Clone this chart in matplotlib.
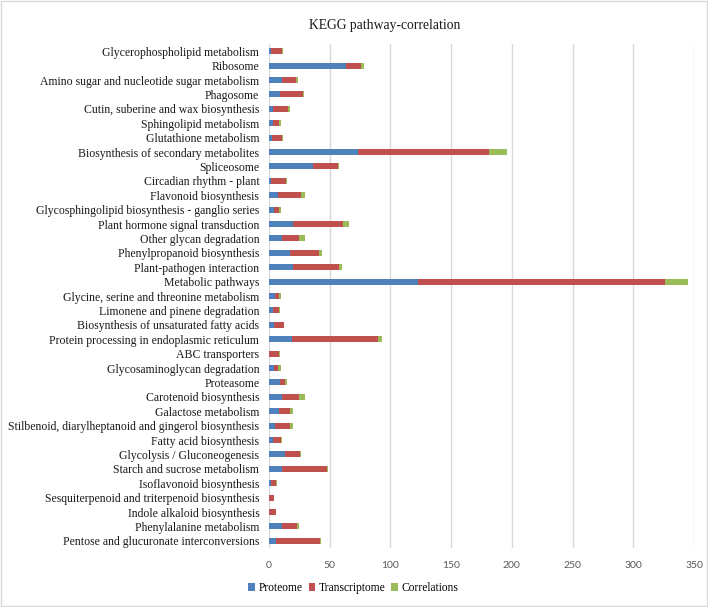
import matplotlib.pyplot as plt
from matplotlib.patches import Rectangle
import numpy as np

plt.rcParams['font.family'] = ['Liberation Serif', 'DejaVu Serif']

pathways = [
    "Glycerophospholipid metabolism",
    "Ribosome",
    "Amino sugar and nucleotide sugar metabolism",
    "Phagosome",
    "Cutin, suberine and wax biosynthesis",
    "Sphingolipid metabolism",
    "Glutathione metabolism",
    "Biosynthesis of secondary metabolites",
    "Spliceosome",
    "Circadian rhythm - plant",
    "Flavonoid biosynthesis",
    "Glycosphingolipid biosynthesis - ganglio series",
    "Plant hormone signal transduction",
    "Other glycan degradation",
    "Phenylpropanoid biosynthesis",
    "Plant-pathogen interaction",
    "Metabolic pathways",
    "Glycine, serine and threonine metabolism",
    "Limonene and pinene degradation",
    "Biosynthesis of unsaturated fatty acids",
    "Protein processing in endoplasmic reticulum",
    "ABC transporters",
    "Glycosaminoglycan degradation",
    "Proteasome",
    "Carotenoid biosynthesis",
    "Galactose metabolism",
    "Stilbenoid, diarylheptanoid and gingerol biosynthesis",
    "Fatty acid biosynthesis",
    "Glycolysis / Gluconeogenesis",
    "Starch and sucrose metabolism",
    "Isoflavonoid biosynthesis",
    "Sesquiterpenoid and triterpenoid biosynthesis",
    "Indole alkaloid biosynthesis",
    "Phenylalanine metabolism",
    "Pentose and glucuronate interconversions",
]

proteome = [2, 63, 11, 9, 3, 3, 2.5, 73, 36, 2, 7, 4, 20, 10.5, 17, 20, 123,
            5, 3, 4, 19, 0, 4, 9, 10.5, 8, 5, 3, 13, 11, 2, 0, 0, 10.5, 6]
transcriptome = [9, 13, 11, 19, 12.5, 5, 8.5, 108.5, 21, 12, 19.5, 4, 41, 14, 24, 38, 203,
                 3, 5, 8, 71, 8, 3.5, 4.5, 14.5, 9, 12, 7, 12.5, 37, 4, 4, 5.5, 12.5, 36]
correlations = [0.6, 2, 2, 0.5, 1.5, 2, 0.5, 14.5, 1, 0.7, 3, 2, 5, 5, 3, 2.5, 19,
                1.5, 1, 0.6, 3, 0.8, 2, 1, 5, 3, 3, 0.3, 0.5, 0.6, 0.5, 0.4, 0.3, 2, 0.6]

colors = ['#4F81BD', '#C0504D', '#9BBB59']

fig = plt.figure(figsize=(7.08, 6.07), dpi=100)
ax = fig.add_axes([269 / 708, 1 - 548 / 607, (694 - 269) / 708, (548 - 44) / 607])

y = np.arange(len(pathways))
p = np.array(proteome)
t = np.array(transcriptome)
c = np.array(correlations)
h = 0.42
ax.barh(y, p, height=h, color=colors[0], label='Proteome', zorder=3)
ax.barh(y, t, left=p, height=h, color=colors[1], label='Transcriptome', zorder=3)
ax.barh(y, c, left=p + t, height=h, color=colors[2], label='Correlations', zorder=3)

ax.set_ylim(len(pathways) - 0.5, -0.5)
ax.set_xlim(0, 350)
ax.set_xticks(range(0, 351, 50))
ax.set_yticks(y)
ax.set_yticklabels(pathways, fontsize=8.5, color='#1a1a1a')
ax.tick_params(axis='x', colors='#595959', labelsize=7.5, length=0, pad=9)
for lbl in ax.get_xticklabels():
    lbl.set_family(['Lato', 'DejaVu Sans'])
ax.tick_params(axis='y', length=0, pad=7)
ax.grid(axis='x', color='#D9D9D9', linewidth=1, zorder=0)
for s in ax.spines.values():
    s.set_visible(False)

fig.text(385 / 708, 1 - 25 / 607, 'KEGG pathway-correlation', ha='center', va='center',
         fontsize=9.8, color='#1a1a1a')

handles, labels = ax.get_legend_handles_labels()
fig.legend(handles, labels, loc='center left', bbox_to_anchor=(238 / 708, 1 - 588 / 607),
           ncol=3, frameon=False, fontsize=8.3, handlelength=0.6, handleheight=0.6,
           handletextpad=0.3, columnspacing=0.5)

fig.patches.append(Rectangle((0.002, 0.002), 0.996, 0.996, transform=fig.transFigure,
                             fill=False, edgecolor='#D9D9D9', linewidth=1))

fig.savefig('out.png', dpi=100)
